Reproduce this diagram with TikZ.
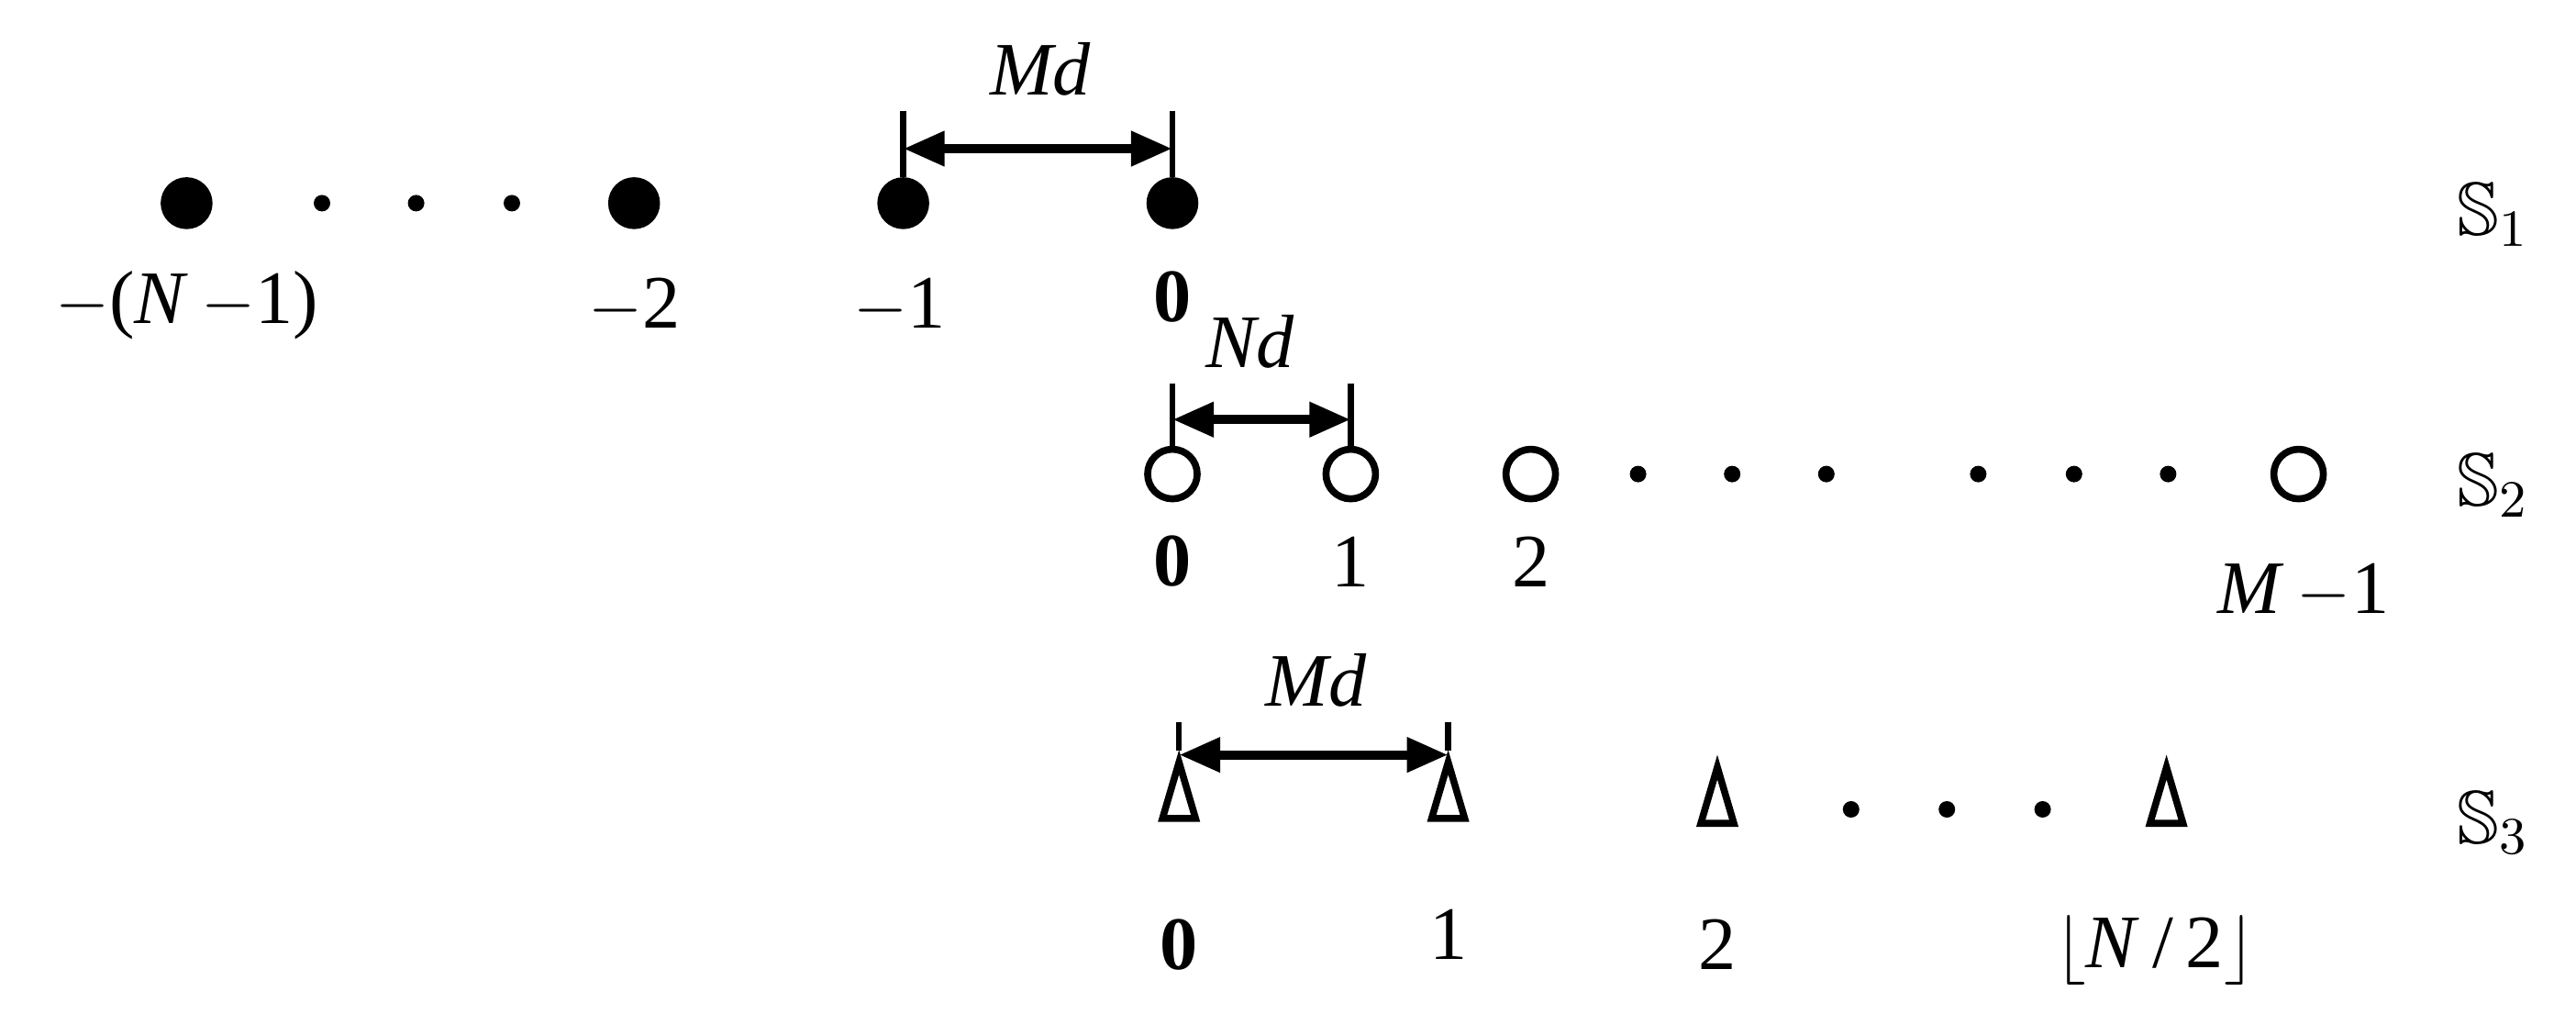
\documentclass[tikz,border=0pt]{standalone}
\usepackage{amssymb}
\usepackage{fontspec}
\setmainfont{Liberation Serif}
\usetikzlibrary{arrows.meta}
\tikzstyle{full} = [circle, fill=black, draw=black, minimum size=0.3cm, inner sep=0pt]
\tikzstyle{empty} = [circle, draw=black, line width=1.2pt, minimum size=0.3cm, inner sep=0pt]
\tikzstyle{tri} = [isosceles triangle, isosceles triangle apex angle=34, isosceles triangle stretches, shape border rotate=90, draw=black, line width=1.2pt, minimum height=0.34cm, minimum width=0.2cm, inner sep=0pt]
\tikzstyle{dot} = [circle, fill=black, minimum size=0.1cm, inner sep=0pt]
\tikzstyle{lbl} = [font=\fontsize{13}{15}\selectfont, inner sep=0pt]
\tikzstyle{tick} = [line width=1pt]
\tikzstyle{span} = [line width=1.6pt, {Triangle[length=0.25cm,width=0.2cm]}-{Triangle[length=0.25cm,width=0.2cm]}]
\usetikzlibrary{shapes.geometric}

\begin{document}
\begin{tikzpicture}[x=0.01cm, y=-0.01cm]
\useasboundingbox (0,0) rectangle (1560,627);

% first set
\node (a1) [full] at (113,123) {};
\node (a2) [full] at (384,123) {};
\node (a3) [full] at (547,123) {};
\node (a4) [full] at (710,123) {};
\foreach \x in {195,252,310} \node [dot] at (\x,123) {};
\node [lbl] at (113,185) {$-$(\textit{N}\,$-$1)};
\node [lbl] at (384,185) {$-$2};
\node [lbl] at (545,185) {$-$1};
\node [lbl] at (710,180) {\textbf{0}};
\coordinate (t1) at (547,67);
\coordinate (t2) at (710,67);
\draw [tick] (t1) -- (a3);
\draw [tick] (t2) -- (a4);
\draw [span] (547,90) -- (710,90);
\node [lbl] at (630,42) {\textit{Md}};
\node [lbl] at (1510,130) {$\mathbb{S}_1$};

% second set
\node (b1) [empty] at (710,287) {};
\node (b2) [empty] at (818,287) {};
\node (b3) [empty] at (927,287) {};
\node (b4) [empty] at (1392,287) {};
\foreach \x in {992,1049,1106,1198,1256,1313} \node [dot] at (\x,287) {};
\node [lbl] at (710,340) {\textbf{0}};
\node [lbl] at (818,340) {1};
\node [lbl] at (927,340) {2};
\node [lbl] at (1395,358) {\textit{M}\,$-$1};
\coordinate (u1) at (710,232);
\coordinate (u2) at (818,232);
\draw [tick] (u1) -- (b1);
\draw [tick] (u2) -- (b2);
\draw [span] (710,254) -- (818,254);
\node [lbl] at (757,207) {\textit{Nd}};
\node [lbl] at (1510,294) {$\mathbb{S}_2$};

% third set
\node (c1) [tri] at (714,488) {};
\node (c2) [tri] at (877,488) {};
\node (c3) [tri] at (1040,491) {};
\node (c4) [tri] at (1312,491) {};
\foreach \x in {1121,1179,1237} \node [dot] at (\x,490) {};
\node [lbl] at (714,572) {\textbf{0}};
\node [lbl] at (877,566) {1};
\node [lbl] at (1040,572) {2};
\node [lbl] at (1305,575) {$\lfloor$\textit{N}\,/\,2$\rfloor$};
\coordinate (v1) at (714,437);
\coordinate (v2) at (877,437);
\draw [tick] (v1) -- (c1.apex);
\draw [tick] (v2) -- (c2.apex);
\draw [span] (714,457) -- (877,457);
\node [lbl] at (797,412) {\textit{Md}};
\node [lbl] at (1510,498) {$\mathbb{S}_3$};

\end{tikzpicture}
\end{document}
